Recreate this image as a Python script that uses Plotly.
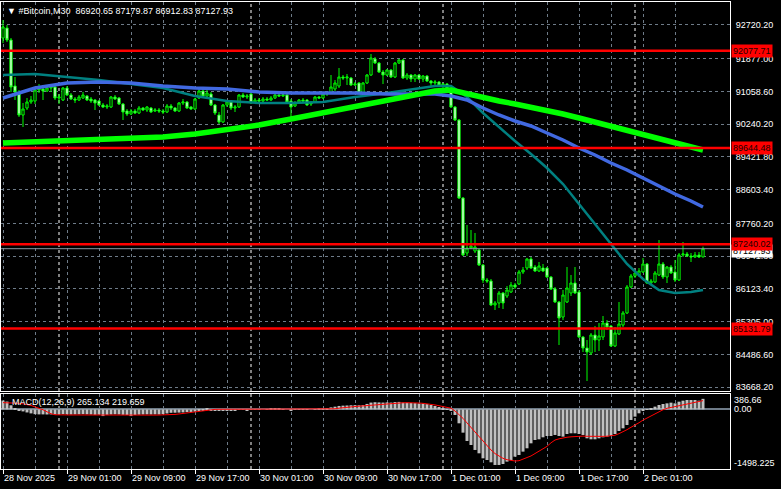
import pandas as pd
import plotly.graph_objects as go

# ---------------- data ----------------
symbol = "#Bitcoin,M30"
first_bar = "2025-11-28 17:00"

bar_open = [
    92395, 92645, 92345, 91195, 90995, 90470, 90645, 90795, 90820, 91095,
    91120, 91070, 91145, 91170, 90895, 90845, 91145, 90970, 90870, 90845,
    90895, 90945, 90870, 90845, 90820, 90720, 90670, 90670, 90920, 90895,
    90745, 90570, 90495, 90570, 90520, 90645, 90595, 90645, 90570, 90595,
    90570, 90545, 90695, 90645, 90570, 90770, 90795, 90670, 90620, 90895,
    91070, 90945, 90995, 90720, 90470, 90295, 90720, 90795, 90645, 90670,
    90970, 90920, 90995, 90795, 90845, 90820, 90870, 90845, 90895, 90970,
    90945, 90970, 90820, 90695, 90770, 90845, 90845, 90745, 90795, 90920,
    90895, 90995, 91020, 91120, 91195, 91420, 91395, 91395, 91220, 91270,
    91020, 91270, 91470, 91870, 91770, 91545, 91470, 91595, 91420, 91770,
    91845, 91395, 91470, 91370, 91470, 91370, 91445, 91320, 91270, 91295,
    91220, 91245, 91095, 90670, 90345, 88395, 87020, 87145, 87070, 87095,
    86720, 86345, 86320, 85720, 85770, 86020, 85945, 86045, 86220, 86245,
    86545, 86645, 86870, 86670, 86570, 86645, 86645, 86420, 86120, 85795,
    85420, 85795, 86020, 86270, 86045, 84920, 84645, 84520, 84970, 84845,
    84920, 85270, 85195, 84695, 84995, 85220, 85520, 86170, 86445, 86470,
    86545, 86745, 86270, 86295, 86470, 86745, 86420, 86670, 86545, 86345,
    86970, 86995, 86945, 86920, 86970, 86920.65,
]
bar_high = [
    92845, 92720, 92395, 91420, 91095, 90770, 90895, 90945, 91145, 91245,
    91170, 91195, 91220, 91195, 90995, 91170, 91195, 91020, 90920, 90970,
    91045, 90970, 90920, 90870, 90845, 90770, 90745, 90945, 90970, 90920,
    90770, 90620, 90620, 90620, 90695, 90670, 90695, 90670, 90645, 90645,
    90620, 90745, 90745, 90670, 90795, 90870, 90820, 90695, 90895, 91120,
    91120, 91095, 91045, 90745, 90545, 90745, 90845, 90820, 90720, 90995,
    91020, 90995, 91045, 90895, 90895, 90920, 90920, 90945, 90995, 90995,
    90995, 90995, 90870, 90820, 90870, 90895, 90870, 90820, 90945, 90945,
    91020, 91045, 91470, 91345, 91645, 91470, 91495, 91420, 91295, 91295,
    91295, 91495, 91995, 91920, 91795, 91595, 91620, 91620, 91795, 91870,
    91870, 91520, 91495, 91495, 91495, 91470, 91470, 91345, 91345, 91320,
    91270, 91270, 91195, 90695, 90370, 88420, 87720, 87595, 87520, 87120,
    86745, 86395, 86370, 85820, 86070, 86045, 86195, 86295, 86270, 86595,
    86670, 86895, 86920, 86720, 86795, 86745, 86670, 86445, 86170, 85820,
    86095, 86670, 86470, 86670, 86095, 84945, 84845, 85020, 85195, 85270,
    85445, 85345, 85220, 85170, 85795, 85570, 86220, 86495, 86595, 86645,
    86895, 86770, 86370, 86570, 87345, 86795, 86695, 86720, 86845, 87020,
    87295, 87045, 87020, 87045, 87045, 87179.87,
]
bar_low = [
    92270, 92295, 91045, 90845, 90420, 90170, 90595, 90745, 90745, 91020,
    90845, 91045, 91045, 90845, 90745, 90820, 90945, 90845, 90770, 90820,
    90870, 90820, 90770, 90595, 90695, 90645, 90620, 90645, 90845, 90720,
    90345, 90445, 90470, 90495, 90495, 90570, 90545, 90520, 90545, 90520,
    90495, 90520, 90595, 90545, 90545, 90720, 90620, 90595, 90595, 90870,
    90920, 90895, 90695, 90470, 90245, 90270, 90670, 90595, 90545, 90645,
    90895, 90870, 90745, 90770, 90795, 90795, 90820, 90820, 90870, 90920,
    90920, 90770, 90420, 90670, 90745, 90795, 90695, 90695, 90770, 90870,
    90870, 90945, 90995, 91070, 91145, 91345, 91220, 91195, 91195, 90995,
    90995, 91245, 91445, 91745, 91520, 91245, 91445, 91395, 91395, 91745,
    91370, 91345, 91295, 91295, 91345, 91295, 91295, 91195, 91220, 91170,
    91120, 91045, 90645, 90320, 88370, 86945, 86945, 87120, 87020, 86695,
    86270, 86270, 85695, 85595, 85645, 85620, 85895, 86020, 86120, 86220,
    86495, 86595, 86620, 86545, 86545, 86545, 86395, 86095, 85770, 84720,
    85345, 85770, 85945, 85995, 84895, 84545, 83820, 84470, 84545, 84570,
    84845, 85095, 84670, 84670, 84970, 85170, 85495, 86145, 86395, 86420,
    86520, 86245, 86220, 86270, 86445, 86370, 86270, 86495, 86295, 86320,
    86920, 86920, 86795, 86895, 86895, 86912.83,
]
bar_close = [
    92670, 92345, 91170, 91045, 90470, 90620, 90795, 90845, 91095, 91120,
    91070, 91145, 91170, 90895, 90920, 91145, 90970, 90870, 90845, 90920,
    90970, 90845, 90820, 90770, 90720, 90670, 90695, 90920, 90870, 90745,
    90545, 90495, 90570, 90520, 90645, 90595, 90670, 90545, 90595, 90570,
    90545, 90695, 90645, 90570, 90770, 90795, 90645, 90620, 90870, 91070,
    90945, 91020, 90720, 90520, 90295, 90720, 90795, 90645, 90670, 90970,
    90920, 90945, 90770, 90845, 90820, 90870, 90845, 90895, 90970, 90945,
    90970, 90795, 90670, 90770, 90845, 90820, 90720, 90770, 90920, 90895,
    90995, 91020, 91170, 91270, 91420, 91395, 91420, 91220, 91245, 91020,
    91270, 91470, 91895, 91770, 91545, 91470, 91595, 91420, 91770, 91845,
    91395, 91470, 91370, 91470, 91370, 91445, 91320, 91270, 91295, 91220,
    91245, 91145, 90670, 90345, 88395, 86970, 87145, 87195, 87170, 86720,
    86345, 86320, 85720, 85770, 86020, 85770, 86095, 86220, 86170, 86545,
    86595, 86870, 86645, 86570, 86695, 86570, 86420, 86120, 85795, 85395,
    85970, 86145, 86270, 86020, 84920, 84645, 84545, 84970, 84845, 84945,
    85270, 85170, 84695, 85020, 85245, 85520, 86170, 86445, 86520, 86570,
    86745, 86270, 86320, 86520, 86745, 86420, 86670, 86520, 86345, 86970,
    86995, 86945, 86920, 86970, 86920, 87127.93,
]

# moving averages, read at these bar numbers
ma_bars = [0, 8, 16, 24, 32, 40, 48, 56, 64, 72, 80, 88, 96, 104, 108, 112,
           116, 120, 124, 128, 132, 136, 140, 144, 148, 152, 156, 160, 164,
           168, 172, 175]
ma_fast = [91470, 91495, 91420, 91345, 91245, 91145, 90945, 90820, 90770,
           90770, 90795, 90920, 91020, 91145, 91195, 91195, 90920, 90520,
           90170, 89820, 89495, 89145, 88745, 88245, 87720, 87220, 86745,
           86370, 86095, 86020, 86045, 86095]
ma_mid = [90895, 91145, 91270, 91295, 91270, 91195, 91145, 91120, 91045,
          91020, 91020, 91020, 90995, 90995, 90995, 90945, 90845, 90645,
          90470, 90320, 90195, 90020, 89845, 89645, 89470, 89270, 89095,
          88895, 88695, 88495, 88320, 88170]
ma_slow = [89770, 89795, 89820, 89845, 89870, 89920, 89995, 90095, 90220,
           90370, 90520, 90670, 90820, 90995, 91070, 91095, 90995, 90895,
           90820, 90745, 90670, 90595, 90495, 90395, 90295, 90195, 90070,
           89970, 89870, 89770, 89670, 89595]

macd_main = [
    222, 197, 103, 34, -17, -51, -77, -101, -120, -126,
    -126, -128, -126, -128, -126, -120, -124, -128, -126, -124,
    -120, -124, -128, -137, -133, -168, -137, -128, -124, -128,
    -137, -141, -168, -141, -133, -128, -126, -128, -126, -128,
    -120, -103, -86, -84, -81, -77, -68, -64, -60, -34,
    -17, 26, -17, -26, -34, -26, -17, -21, -17, -9,
    -13, -17, -13, -9, -4, 0, 9, 17, 26, 21,
    9, 0, -17, -13, -9, -4, -9, 0, 9, 17,
    26, 34, 51, 68, 86, 94, 98, 103, 107, 103,
    111, 137, 171, 180, 175, 171, 175, 171, 184, 188,
    171, 167, 162, 158, 150, 145, 133, 111, 86, 60,
    34, 9, -34, -141, -350, -585, -794, -895, -1020, -1104,
    -1230, -1272, -1330, -1397, -1397, -1372, -1313, -1272, -1188, -1146,
    -1062, -978, -853, -769, -752, -702, -669, -669, -643, -669,
    -685, -618, -601, -601, -618, -643, -727, -752, -752, -727,
    -702, -685, -669, -618, -543, -476, -392, -266, -182, -99,
    -32, -15, 10, 69, 111, 136, 152, 169, 152, 194,
    219, 236, 236, 236, 219, 265.134,
]
macd_signal = [
    169, 169, 166, 162, 154, 140, 122, 100, 62, 30,
    -10, -60, -110, -135, -141, -141, -142, -141, -140, -141,
    -142, -141, -141, -143, -144, -146, -147, -146, -144, -143,
    -144, -145, -147, -148, -147, -146, -145, -144, -143, -142,
    -141, -140, -135, -126, -115, -102, -95, -80, -62, -45,
    -28, -15, -8, 0, 2, 2, 2, 1, 2, 2,
    2, 2, 2, 1, 1, 1, 2, 3, 4, 5,
    5, 4, 3, 2, 1, 1, 1, 1, 2, 3,
    4, 6, 9, 15, 30, 44, 54, 64, 72, 80,
    88, 98, 108, 118, 130, 140, 145, 150, 155, 160,
    166, 168, 169, 168, 160, 152, 144, 132, 112, 92,
    70, 50, 30, -40, -130, -225, -340, -455, -570, -685,
    -790, -900, -1020, -1110, -1175, -1230, -1265, -1290, -1297, -1290,
    -1255, -1215, -1170, -1110, -1050, -990, -930, -840, -770, -740,
    -715, -700, -690, -680, -670, -672, -676, -680, -684, -682,
    -678, -674, -670, -650, -610, -565, -510, -450, -400, -335,
    -270, -215, -160, -110, -60, -10, 27, 47, 66, 85,
    110, 135, 158, 180, 200, 219.659,
]
macd_top, macd_bottom = 386.66, -1498.225

level_lines = [92077.71, 89644.48, 87240.02, 85131.79]
price_ticks = [92720.20, 91877.00, 91058.60, 90240.20, 89421.80, 88603.40,
               87760.20, 86941.80, 86123.40, 85305.00, 84486.60, 83668.20]
time_labels = ["28 Nov 2025", "29 Nov 01:00", "29 Nov 09:00", "29 Nov 17:00",
               "30 Nov 01:00", "30 Nov 09:00", "30 Nov 17:00", "1 Dec 01:00",
               "1 Dec 09:00", "1 Dec 17:00", "2 Dec 01:00"]
price_lo, price_hi = 83570, 93295

# ---------------- figure ----------------
bar = pd.Timedelta(minutes=30)
times = pd.date_range(first_bar, periods=len(bar_close), freq="30min")
ma_times = [times[0] + b * bar for b in ma_bars]
label_times = [times[0] + 16 * k * bar for k in range(len(time_labels))]
grid_times = [times[0] + (16 * k + 8) * bar for k in range(len(time_labels))]
day_starts = [t for t in times if t.hour == 0 and t.minute == 0]

FONT = "Liberation Sans"
FS = 9
GRID = "#6e7b88"

fig = go.Figure()
fig.add_trace(go.Candlestick(
    x=times, open=bar_open, high=bar_high, low=bar_low, close=bar_close,
    increasing=dict(line=dict(color="#00ff00", width=1), fillcolor="#000000"),
    decreasing=dict(line=dict(color="#00ff00", width=1), fillcolor="#ffffff"),
    whiskerwidth=0, xaxis="x", yaxis="y", hoverinfo="skip", showlegend=False))
fig.add_trace(go.Scatter(x=ma_times, y=ma_fast, mode="lines",
                         line=dict(color="#008080", width=2.5),
                         xaxis="x", yaxis="y", hoverinfo="skip", showlegend=False))
fig.add_trace(go.Scatter(x=ma_times, y=ma_mid, mode="lines",
                         line=dict(color="#4169e1", width=3.5),
                         xaxis="x", yaxis="y", hoverinfo="skip", showlegend=False))
fig.add_trace(go.Scatter(x=ma_times, y=ma_slow, mode="lines",
                         line=dict(color="#00ff00", width=5.5),
                         xaxis="x", yaxis="y", hoverinfo="skip", showlegend=False))

fig.add_trace(go.Bar(x=times, y=macd_main, marker=dict(color="#c0c0c0", line=dict(width=0)),
                     xaxis="x2", yaxis="y2", hoverinfo="skip", showlegend=False))
fig.add_trace(go.Scatter(x=times, y=macd_signal, mode="lines",
                         line=dict(color="#ff0000", width=1),
                         xaxis="x2", yaxis="y2", hoverinfo="skip", showlegend=False))

x_range = [times[0] - 0.5 * bar, times[0] + 181.75 * bar]

xcommon = dict(range=x_range, type="date", showline=True, mirror=True,
               linecolor="#ffffff", linewidth=1, zeroline=False,
               showgrid=True, gridcolor=GRID, griddash="3px,3px", gridwidth=1,
               tickmode="array", tickvals=label_times, tickangle=0,
               minor=dict(tickmode="array", tickvals=grid_times, showgrid=True,
                          gridcolor=GRID, griddash="3px,3px", gridwidth=1, ticks=""))

fig.update_layout(
    width=781, height=489,
    margin=dict(l=1, r=51, t=2, b=20, autoexpand=False),
    paper_bgcolor="#000000", plot_bgcolor="#000000",
    font=dict(family=FONT, size=FS, color="#ffffff"),
    hovermode=False, bargap=0.25, boxgap=0.2,
    xaxis=dict(**xcommon, anchor="y", showticklabels=False, ticks="",
               rangeslider=dict(visible=False)),
    xaxis2=dict(**xcommon, anchor="y2", matches="x", ticktext=time_labels,
                showticklabels=True, ticks="outside", ticklen=4, tickcolor="#ffffff",
                ticklabelposition="outside right", automargin=False,
                tickfont=dict(family=FONT, size=FS, color="#ffffff")),
    yaxis=dict(domain=[0.1670, 1.0], range=[price_lo, price_hi], side="right",
               showline=True, mirror=True, linecolor="#ffffff", linewidth=1,
               showgrid=True, gridcolor=GRID, griddash="3px,3px", zeroline=False,
               tickmode="array", tickvals=price_ticks, automargin=False,
               ticktext=[f"{v:.2f}" for v in price_ticks],
               ticks="outside", ticklen=3, tickcolor="#000000",
               tickfont=dict(family=FONT, size=FS, color="#ffffff")),
    yaxis2=dict(domain=[0.0, 0.1606], range=[macd_bottom, macd_top], side="right",
                showline=True, mirror=True, linecolor="#ffffff", linewidth=1,
                showgrid=False, zeroline=True, zerolinecolor=GRID,
                showticklabels=False, ticks=""),
)

# day separators (both panes)
for d in day_starts:
    fig.add_shape(type="line", xref="x", yref="paper", x0=d, x1=d, y0=0, y1=1,
                  line=dict(color="#ffffff", width=1, dash="3px,3px"), layer="below")
# MACD zero grid line dashed
fig.add_shape(type="line", xref="x2 domain", yref="y2", x0=0, x1=1, y0=0, y1=0,
              line=dict(color=GRID, width=1, dash="3px,3px"), layer="below")

# bid line
last_price = bar_close[-1]
fig.add_shape(type="line", xref="x domain", yref="y", x0=0, x1=1,
              y0=last_price, y1=last_price, line=dict(color="#8a96a3", width=1))
fig.add_annotation(x=1, xref="paper", y=last_price, yref="y", xanchor="left",
                   xshift=1, yshift=-2, text=f"{last_price:.2f}", showarrow=False,
                   bgcolor="#ffffff", borderpad=1,
                   font=dict(family=FONT, size=FS, color="#000000"))

# red level lines
for lv in level_lines:
    fig.add_shape(type="line", xref="x domain", yref="y", x0=0, x1=1, y0=lv, y1=lv,
                  line=dict(color="#ff0000", width=2.5))
    fig.add_annotation(x=1, xref="paper", y=lv, yref="y", xanchor="left",
                       xshift=1, text=f"{lv:.2f}", showarrow=False,
                       bgcolor="#ff0000", borderpad=1,
                       font=dict(family=FONT, size=FS, color="#200000"))

# MACD scale labels
for val, anchor in [(macd_top, "top"), (0.0, "middle"), (macd_bottom, "bottom")]:
    txt = "0.00" if val == 0 else (f"{val:.2f}" if val > 0 else f"{val:.3f}")
    fig.add_annotation(x=1, xref="paper", y=val, yref="y2", xanchor="left",
                       yanchor=anchor, xshift=3, text=txt, showarrow=False,
                       borderpad=0, font=dict(family=FONT, size=FS, color="#ffffff"))

fig.add_annotation(x=0, xref="paper", y=1, yref="y2 domain", xanchor="left",
                   yanchor="top", xshift=9, yshift=-1,
                   text=f"MACD(12,26,9) {macd_main[-1]:.3f} {macd_signal[-1]:.3f}",
                   showarrow=False, font=dict(family=FONT, size=FS, color="#ffffff"))

fig.add_annotation(x=0, xref="paper", y=1, yref="paper", xanchor="left",
                   yanchor="top", xshift=4, yshift=-2,
                   text=(f"▼ {symbol}  {bar_open[-1]:.2f} {bar_high[-1]:.2f} "
                         f"{bar_low[-1]:.2f} {bar_close[-1]:.2f}"),
                   showarrow=False, font=dict(family=FONT, size=FS, color="#ffffff"))

fig.write_html("out.html", config={"displayModeBar": False},
               post_script="document.body.style.margin='0px';"
                           "document.body.style.overflow='hidden';")
